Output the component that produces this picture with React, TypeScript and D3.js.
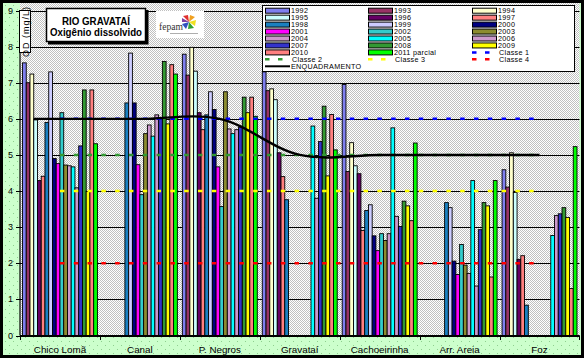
import React from "react";
import * as d3 from "d3";

const categories = ["Chico Lomã", "Canal", "P. Negros", "Gravataí", "Cachoeirinha", "Arr. Areia", "Foz"];

const seriesNames = [
  "1992", "1993", "1994", "1995", "1996", "1997", "1998", "1999", "2000", "2001",
  "2002", "2003", "2004", "2005", "2006", "2007", "2008", "2009", "2010", "2011 parcial",
];

const seriesColors = [
  "#7f7fef", "#993366", "#ffffcc", "#ccffff", "#660066", "#ff8080", "#1a80c0", "#ccccff", "#000080", "#ff00ff",
  "#33cccc", "#8c8c30", "#cc99cc", "#00ffff", "#cc99cc", "#3333cc", "#339933", "#ffff00", "#ff8080", "#00ff00",
];

// OD values per series, in category order (null = no data)
const seriesValues: (number | null)[][] = [
  [7.55, null, 7.79, 7.3, 6.95, null, 4.59], // 1992
  [7.0, null, 7.21, 6.78, 4.54, null, 4.11], // 1993
  [7.24, null, 7.98, 6.83, 5.34, null, 5.06], // 1994
  [5.97, null, 7.32, 6.53, 4.7, null, 3.96], // 1995
  [4.29, null, 6.17, 5.06, 4.48, null, 2.11], // 1996
  [4.41, null, 5.7, 4.4, 2.91, null, 2.21], // 1997
  [5.9, 6.44, 6.11, 3.76, 3.46, 3.68, 0.84], // 1998
  [7.3, 7.82, 6.75, null, 3.62, 3.54, null], // 1999
  [4.9, 6.44, 6.26, null, 2.76, 2.06, null], // 2000
  [4.76, 4.73, 4.67, null, 2.35, 1.69, null], // 2001
  [6.17, 3.9, 3.57, null, 2.82, 2.52, null], // 2002
  [4.72, 5.59, 6.75, null, 2.63, 1.95, null], // 2003
  [4.7, 5.83, 5.72, null, 2.82, 1.72, null], // 2004
  [4.67, 5.52, 5.59, 5.8, 5.75, 4.29, 2.77], // 2005
  [4.09, 6.11, 5.7, 3.8, 3.3, 1.37, 3.32], // 2006
  [5.25, 6.0, 5.77, 5.37, 3.02, 2.93, 3.37], // 2007
  [6.8, 7.59, 6.6, 6.35, 3.72, 3.68, 3.54], // 2008
  [3.99, 5.86, 6.17, 4.42, 3.59, 3.59, 3.27], // 2009
  [6.8, 7.5, 6.6, 6.12, 3.18, 1.62, 1.3], // 2010
  [5.31, 7.24, 6.07, 5.14, 5.33, 4.29, 5.23], // 2011 parcial
];

const enquadramento = [6, 6, 6, 5, 5, 5, 5];

const classeNames = ["Classe 1", "Classe 2", "Classe 3", "Classe 4"];
const classeLevels = [6, 5, 4, 2];
const classeColors = ["#0000ff", "#339933", "#ffff00", "#ff0000"];

const yTicks = [0, 1, 2, 3, 4, 5, 6, 7, 8, 9];

const W = 585;
const H = 363;
const FONT = "'Liberation Sans', Arial, sans-serif";

export default function App() {
  const x = d3.scaleBand<string>().domain(categories).range([20, 579.5]).padding(0);
  const xs = d3
    .scaleBand<string>()
    .domain(seriesNames)
    .range([0, x.bandwidth()])
    .paddingInner(0)
    .paddingOuter(0.667);
  const y = d3.scaleLinear().domain([0, 9]).range([335.5, 10.5]);

  const cx = (c: string) => (x(c) as number) + x.bandwidth() / 2;
  const firstC = cx(categories[0]);
  const lastC = cx(categories[categories.length - 1]);

  const enqPts: [number, number][] = [
    [firstC - x.bandwidth() * 0.33, y(enquadramento[0])],
    ...categories.map((c, i) => [cx(c), y(enquadramento[i])] as [number, number]),
  ];
  const enqPath = d3.line().curve(d3.curveCatmullRom.alpha(0.5))(enqPts) || "";

  type LegItem = { label: string; kind: "bar" | "dash" | "line"; color: string };
  const legItems: LegItem[] = [
    ...seriesNames.map((s, i) => ({ label: s, kind: "bar" as const, color: seriesColors[i] })),
    ...classeNames.map((s, i) => ({ label: s, kind: "dash" as const, color: classeColors[i] })),
    { label: "ENQUADRAMENTO", kind: "line", color: "#000" },
  ];
  const legColX = [265, 368, 472];
  const legRowY = (r: number) => 10.7 + 6.95 * r;

  return (
    <>
      <style>{`body{margin:0}`}</style>
      <svg width={W} height={H} style={{ display: "block", fontFamily: FONT }}>
        <defs>
          <pattern id="greenBg" width="8" height="8" patternUnits="userSpaceOnUse">
            <rect width="8" height="8" fill="#ccffcc" />
            <rect x="1" y="1" width="1" height="1" fill="#8fd08f" />
            <rect x="5" y="5" width="1" height="1" fill="#8fd08f" />
          </pattern>
          <pattern id="grayBg" width="2" height="2" patternUnits="userSpaceOnUse">
            <rect width="2" height="2" fill="#ffffff" />
            <rect x="0" y="0" width="1" height="1" fill="#c0c0c0" />
            <rect x="1" y="1" width="1" height="1" fill="#c0c0c0" />
          </pattern>
        </defs>

        <rect x={0} y={0} width={W} height={H} fill="#fff" />
        <rect x={1.5} y={1.5} width={581} height={355} fill="url(#greenBg)" stroke="#000" strokeWidth={3} />

        <rect x={20} y={3} width={559.5} height={332.5} fill="url(#grayBg)" />

        {yTicks.map((t) => (
          <line key={"g" + t} x1={20} x2={579.5} y1={Math.round(y(t)) + 0.5} y2={Math.round(y(t)) + 0.5} stroke="#000" strokeWidth={1} />
        ))}

        {seriesNames.map((s, si) =>
          categories.map((c, ci) => {
            const v = seriesValues[si][ci];
            if (v == null) return null;
            const bx = (x(c) as number) + (xs(s) as number);
            return (
              <rect
                key={s + c}
                x={bx}
                y={y(v)}
                width={xs.bandwidth()}
                height={y(0) - y(v)}
                fill={seriesColors[si]}
                stroke="#000"
                strokeWidth={0.9}
              />
            );
          })
        )}

        {classeLevels.map((lv, i) => (
          <line
            key={"cl" + i}
            x1={firstC}
            x2={lastC}
            y1={y(lv)}
            y2={y(lv)}
            stroke={classeColors[i]}
            strokeWidth={2.5}
            strokeDasharray="4.5 9.3"
          />
        ))}

        <path d={enqPath} fill="none" stroke="#000" strokeWidth={2.4} />

        <line x1={20} x2={579.5} y1={335.5} y2={335.5} stroke="#000" strokeWidth={1.2} />
        <line x1={20} x2={20} y1={10} y2={335.5} stroke="#000" strokeWidth={1.2} />
        {yTicks.map((t) => (
          <g key={"yt" + t}>
            <line x1={16} x2={20} y1={Math.round(y(t)) + 0.5} y2={Math.round(y(t)) + 0.5} stroke="#000" />
            <text x={13} y={y(t) + 3} fontSize={9} textAnchor="end" fill="#000">
              {t}
            </text>
          </g>
        ))}
        {categories.map((c) => (
          <line key={"xt" + c} x1={Math.round(x(c) as number) + 0.5} x2={Math.round(x(c) as number) + 0.5} y1={335.5} y2={340} stroke="#000" />
        ))}
        <line x1={579.5} x2={579.5} y1={335.5} y2={340} stroke="#000" />
        {categories.map((c) => (
          <text key={"xl" + c} x={cx(c)} y={353} fontSize={9.8} textAnchor="middle" fill="#000">
            {c}
          </text>
        ))}

        <rect x={262.5} y={5.5} width={312} height={66} fill="#fff" stroke="#000" strokeWidth={1} />
        {legItems.map((it, i) => {
          const col = i % 3;
          const row = Math.floor(i / 3);
          const lx = legColX[col];
          const ly = legRowY(row);
          return (
            <g key={"leg" + i}>
              {it.kind === "bar" && (
                <rect x={lx + 0.5} y={ly - 2.5} width={24} height={5} fill={it.color} stroke="#000" strokeWidth={1} />
              )}
              {it.kind === "dash" && (
                <line x1={lx} x2={lx + 22} y1={ly} y2={ly} stroke={it.color} strokeWidth={2.5} strokeDasharray="4.5 8.5" />
              )}
              {it.kind === "line" && <line x1={lx} x2={lx + 25} y1={ly} y2={ly} stroke="#000" strokeWidth={2} />}
              <text x={lx + (it.kind === "dash" ? 27 : 26)} y={ly + 2.6} fontSize={7.2} letterSpacing={0.3} fill="#000">
                {it.label}
              </text>
            </g>
          );
        })}

        <rect x={48} y={10} width={100.5} height={34.5} fill="#000" />
        <rect x={46.5} y={8.5} width={99} height={33} fill="#fff" stroke="#000" strokeWidth={1.5} />
        <text x={96} y={24.5} fontSize={11} textAnchor="middle" fill="#000" textLength={68} lengthAdjust="spacingAndGlyphs" fontWeight="bold">
          RIO GRAVATAÍ
        </text>
        <text x={96} y={36} fontSize={11} textAnchor="middle" fill="#000" textLength={92} lengthAdjust="spacingAndGlyphs" fontWeight="bold">
          Oxigênio dissolvido
        </text>

        <rect x={156} y={11} width={48} height={27} fill="#fff" />
        <text x={159} y={30} fontSize={10} fontFamily="'Liberation Serif', serif" fill="#333" textLength={24} lengthAdjust="spacingAndGlyphs">
          fepam
        </text>
        <g transform="translate(189,22)">
          <path d="M0,0 L-6,-6 L-1,-7 Z" fill="#e03030" />
          <path d="M0,0 L1,-7 L6,-5 Z" fill="#f0a020" />
          <path d="M0,0 L7,-2 L6,4 Z" fill="#f0e020" />
          <path d="M0,0 L5,6 L-1,7 Z" fill="#30a030" />
          <path d="M0,0 L-3,7 L-7,2 Z" fill="#3050c0" />
          <path d="M0,0 L-7,0 L-7,-4 Z" fill="#8040a0" />
        </g>
        <line x1={170} x2={198} y1={33.5} y2={33.5} stroke="#999" strokeWidth={0.8} />

        <rect x={19.5} y={10.5} width={11} height={42} fill="#fff" stroke="#000" strokeWidth={1} />
        <text transform="translate(28.5,31.5) rotate(-90)" fontSize={9} textAnchor="middle" fill="#000" letterSpacing={1}>
          OD (mg/L)
        </text>
      </svg>
    </>
  );
}
